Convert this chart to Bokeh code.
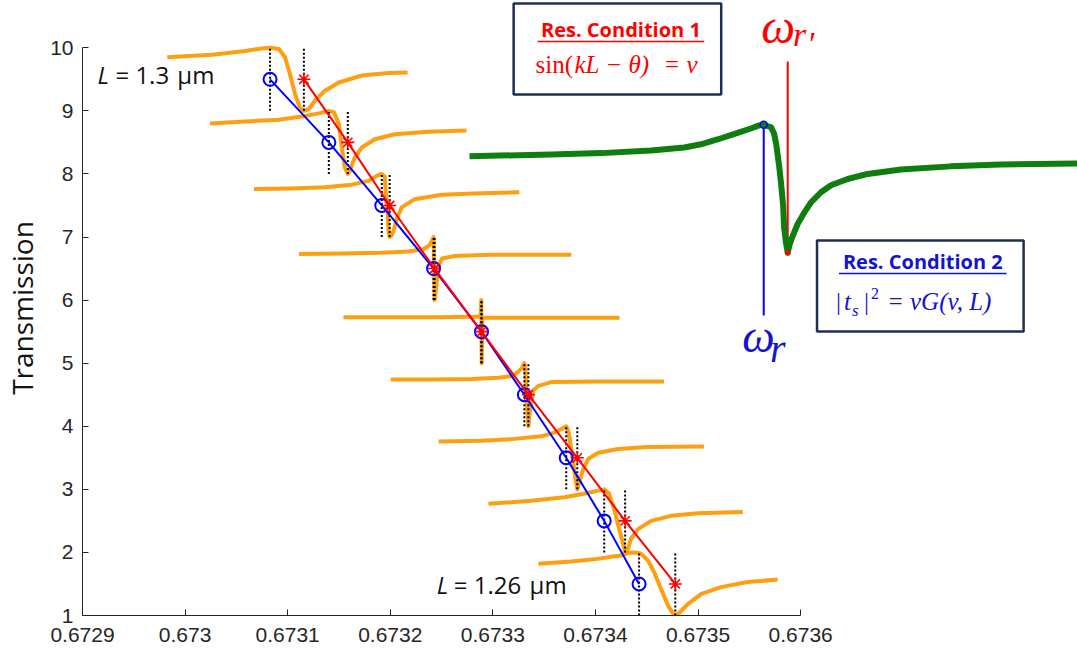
from bokeh.plotting import figure
from bokeh.models import Range1d, FixedTicker
from bokeh.core.properties import value
from bokeh.embed import file_html
from bokeh.resources import INLINE

# ---------------- data ----------------
x_ticks = [0.6729, 0.6730, 0.6731, 0.6732, 0.6733, 0.6734, 0.6735, 0.6736]
x_tick_labels = ["0.6729", "0.673", "0.6731", "0.6732", "0.6733", "0.6734", "0.6735", "0.6736"]
y_ticks = [1, 2, 3, 4, 5, 6, 7, 8, 9, 10]
y_tick_labels = ["1", "2", "3", "4", "5", "6", "7", "8", "9", "10"]

# resonance levels (one per length L = 1.300 ... 1.260 um)
levels = [9.5, 8.5, 7.5, 6.5, 5.5, 4.5, 3.5, 2.5, 1.5]
omega_r_freq = [0.6730828, 0.6731401, 0.6731917, 0.6732422, 0.6732889,
                0.6733307, 0.6733715, 0.6734085, 0.6734425]
omega_rp_freq = [0.6731158, 0.6731586, 0.6731994, 0.6732432, 0.6732889,
                 0.6733346, 0.6733823, 0.6734289, 0.6734778]

# transmission spectra (offset by one unit each)
spec_1300_x = [0.6729826, 0.6730264, 0.6730585, 0.6730750, 0.6730828, 0.6730915, 0.6730974,
               0.6731022, 0.6731071, 0.6731119, 0.6731158, 0.6731207, 0.6731265, 0.6731363,
               0.6731499, 0.6731722, 0.6731985, 0.6732169]
spec_1300_y = [9.85, 9.89, 9.95, 9.99, 10.00, 9.98, 9.85, 9.58, 9.27, 9.05, 9.00, 9.03, 9.16,
               9.32, 9.45, 9.56, 9.60, 9.61]

spec_1295_x = [0.6730244, 0.6730585, 0.6730915, 0.6731139, 0.6731304, 0.6731401, 0.6731450,
               0.6731499, 0.6731528, 0.6731557, 0.6731586, 0.6731606, 0.6731654, 0.6731722,
               0.6731849, 0.6732043, 0.6732374, 0.6732743]
spec_1295_y = [8.80, 8.83, 8.86, 8.91, 8.96, 9.00, 8.98, 8.79, 8.42, 8.10, 8.00, 8.05, 8.26,
               8.42, 8.55, 8.63, 8.67, 8.69]

spec_1290_x = [0.6730672, 0.6731042, 0.6731363, 0.6731625, 0.6731790, 0.6731868, 0.6731917,
               0.6731946, 0.6731956, 0.6731975, 0.6731985, 0.6731994, 0.6732014, 0.6732033,
               0.6732063, 0.6732111, 0.6732238, 0.6732500, 0.6732821, 0.6733258]
spec_1290_y = [7.76, 7.77, 7.79, 7.83, 7.89, 7.97, 8.00, 7.96, 7.71, 7.34, 7.07, 7.00, 7.03,
               7.10, 7.29, 7.47, 7.60, 7.67, 7.69, 7.71]

spec_1285_x = [0.6731110, 0.6731528, 0.6731917, 0.6732179, 0.6732325, 0.6732383, 0.6732422,
               0.6732427, 0.6732432, 0.6732450, 0.6732472, 0.6732505, 0.6732626, 0.6732986,
               0.6733764]
spec_1285_y = [6.73, 6.74, 6.75, 6.77, 6.81, 6.87, 7.00, 6.50, 6.00, 6.23, 6.55, 6.66, 6.70,
               6.72, 6.72]

spec_1280_x = [0.6731544, 0.6732500, 0.6732880, 0.6732887, 0.6732889, 0.6732891, 0.6732898,
               0.6733300, 0.6734234]
spec_1280_y = [5.73, 5.73, 5.74, 6.00, 5.50, 5.00, 5.72, 5.72, 5.72]

spec_1275_x = [0.6732004, 0.6732403, 0.6732792, 0.6733054, 0.6733200, 0.6733278, 0.6733307,
               0.6733317, 0.6733326, 0.6733336, 0.6733346, 0.6733365, 0.6733394, 0.6733443,
               0.6733569, 0.6734026, 0.6734668]
spec_1275_y = [4.74, 4.74, 4.75, 4.77, 4.80, 4.91, 5.00, 4.88, 4.57, 4.25, 4.00, 4.30, 4.57,
               4.64, 4.70, 4.71, 4.71]

spec_1270_x = [0.6732471, 0.6732889, 0.6733210, 0.6733472, 0.6733599, 0.6733686, 0.6733715,
               0.6733735, 0.6733764, 0.6733793, 0.6733810, 0.6733823, 0.6733842, 0.6733881,
               0.6733929, 0.6734026, 0.6734221, 0.6734513, 0.6735057]
spec_1270_y = [3.76, 3.77, 3.80, 3.84, 3.90, 3.97, 4.00, 3.93, 3.64, 3.32, 3.11, 3.00, 3.11,
               3.32, 3.48, 3.58, 3.64, 3.67, 3.68]

spec_1265_x = [0.6732957, 0.6733375, 0.6733696, 0.6733890, 0.6734026, 0.6734085, 0.6734133,
               0.6734182, 0.6734231, 0.6734269, 0.6734289, 0.6734318, 0.6734347, 0.6734415,
               0.6734542, 0.6734736, 0.6734999, 0.6735436]
spec_1265_y = [2.77, 2.82, 2.875, 2.93, 2.98, 3.00, 2.93, 2.69, 2.37, 2.14, 2.00, 2.06, 2.22,
               2.37, 2.50, 2.58, 2.62, 2.64]

spec_1260_x = [0.6733443, 0.6733764, 0.6733988, 0.6734153, 0.6734250, 0.6734318, 0.6734376,
               0.6734425, 0.6734444, 0.6734513, 0.6734571, 0.6734639, 0.6734707, 0.6734756,
               0.6734778, 0.6734814, 0.6734901, 0.6735028, 0.6735222, 0.6735485, 0.6735776]
spec_1260_y = [1.82, 1.855, 1.89, 1.93, 1.95, 1.99, 2.00, 1.99, 1.98, 1.87, 1.69, 1.42, 1.16,
               1.03, 1.00, 1.04, 1.18, 1.34, 1.45, 1.53, 1.57]

# schematic Fano line (inset, green)
fano_x = [0.6732772, 0.6733569, 0.6734058, 0.6734542, 0.6734866, 0.6735028, 0.6735196,
          0.6735349, 0.6735514, 0.6735595, 0.6735640, 0.6735712, 0.6735741, 0.6735761,
          0.6735790, 0.6735809, 0.6735829, 0.6735839, 0.6735858, 0.6735874, 0.6735890,
          0.6735923, 0.6735972, 0.6736036, 0.6736101, 0.6736198, 0.6736296, 0.6736458,
          0.6736653, 0.6736977, 0.6737463, 0.6737949, 0.6738698]
fano_y = [8.28, 8.31, 8.33, 8.37, 8.42, 8.47, 8.55, 8.63, 8.72, 8.77, 8.78, 8.74, 8.64, 8.48,
          8.13, 7.85, 7.50, 7.15, 6.90, 6.75, 6.87, 7.02, 7.21, 7.39, 7.55, 7.71, 7.82, 7.92,
          8.00, 8.07, 8.12, 8.15, 8.165]
fano_peak_x = 0.6735640
fano_peak_y = 8.78
fano_dip_x = 0.6735874
fano_dip_y = 6.75
marker_line_low = 5.756
marker_line_high = 9.783

spectra = [(spec_1300_x, spec_1300_y), (spec_1295_x, spec_1295_y), (spec_1290_x, spec_1290_y),
           (spec_1285_x, spec_1285_y), (spec_1280_x, spec_1280_y), (spec_1275_x, spec_1275_y),
           (spec_1270_x, spec_1270_y), (spec_1265_x, spec_1265_y), (spec_1260_x, spec_1260_y)]

# ---------------- styles ----------------
ORANGE = "#fe9f12"
GREEN = "#0f7d0f"
BLUE = "#0000ff"
RED = "#ff0000"
TXT_BLUE = "#1414cc"
NAVY = "#1f2f52"
AXIS = "#262626"

p = figure(width=1077, height=657, output_backend="svg", toolbar_location=None,
           x_range=Range1d(0.6729, 0.67386984), y_range=Range1d(1, 10.7495),
           min_border_left=80, min_border_right=0, min_border_top=0, min_border_bottom=42)
p.extra_x_ranges = {"px": Range1d(80, 1077)}
p.extra_y_ranges = {"px": Range1d(615, 0)}
p.outline_line_color = None
p.xgrid.grid_line_color = None
p.ygrid.grid_line_color = None
p.background_fill_color = "white"
p.border_fill_color = "white"

p.xaxis.ticker = FixedTicker(ticks=x_ticks)
p.xaxis.major_label_overrides = {t: s for t, s in zip(x_ticks, x_tick_labels)}
p.yaxis.ticker = FixedTicker(ticks=y_ticks)
p.yaxis.major_label_overrides = {t: s for t, s in zip(y_ticks, y_tick_labels)}
p.xaxis.bounds = (x_ticks[0], x_ticks[-1])
p.yaxis.bounds = (y_ticks[0], y_ticks[-1])
for ax in (p.xaxis, p.yaxis):
    ax.axis_line_color = AXIS
    ax.axis_line_width = 1
    ax.major_tick_line_color = AXIS
    ax.major_tick_in = 6
    ax.major_tick_out = 0
    ax.minor_tick_line_color = None
    ax.major_label_text_font = "Liberation Sans"
    ax.major_label_text_font_size = "21px"
    ax.major_label_text_color = AXIS
p.xaxis.major_label_standoff = 12
p.yaxis.major_label_standoff = 9
p.yaxis.axis_label = "Transmission"
p.yaxis.axis_label_text_font = "Open Sans"
p.yaxis.axis_label_text_font_size = "28px"
p.yaxis.axis_label_text_font_style = "normal"
p.yaxis.axis_label_text_color = "#111111"
p.yaxis.axis_label_standoff = 6

# spectra
for sx, sy in spectra:
    p.line(sx, sy, line_color=ORANGE, line_width=4, line_join="round")

# dotted resonance markers
seg_x = omega_r_freq + omega_rp_freq
seg_lo = [v - 0.5 for v in levels] * 2
seg_hi = [v + 0.5 for v in levels] * 2
p.segment(x0=seg_x, y0=seg_lo, x1=seg_x, y1=seg_hi, line_color="black",
          line_width=2, line_dash="2 2")

# resonance tracks
p.line(omega_r_freq, levels, line_color=BLUE, line_width=2)
p.scatter(omega_r_freq, levels, marker="circle", size=13, fill_color=None,
          line_color=BLUE, line_width=2)
p.line(omega_rp_freq, levels, line_color=RED, line_width=2)
p.scatter(omega_rp_freq, levels, marker="asterisk", size=13, line_color=RED, line_width=1.6)

# inset Fano line
p.segment(x0=[fano_peak_x], y0=[fano_peak_y], x1=[fano_peak_x], y1=[marker_line_low],
          line_color=BLUE, line_width=2)
p.segment(x0=[fano_dip_x], y0=[marker_line_high], x1=[fano_dip_x], y1=[fano_dip_y],
          line_color=RED, line_width=2)
p.line(fano_x, fano_y, line_color=GREEN, line_width=6, line_join="round")
p.scatter([fano_peak_x], [fano_peak_y], marker="circle", size=7, fill_color=None,
          line_color=BLUE, line_width=1.5)
p.scatter([fano_dip_x], [fano_dip_y], marker="asterisk", size=6, line_color=RED, line_width=1.2)

# ---------------- annotations (pixel-like extra ranges) ----------------
def txt(x, base, s, font, size, color, style="normal", align="left"):
    y = base - 0.4 * size
    p.text(x=[x], y=[y], text=[s], text_font=value(font), text_font_size=f"{size}px",
           text_color=color, text_font_style=style, text_align=align,
           text_baseline="alphabetic", x_range_name="px", y_range_name="px")

# boxes
p.quad(left=[512, 816], right=[720, 1023], top=[3, 240], bottom=[94, 331],
       fill_color="white", line_color=NAVY, line_width=2.5,
       x_range_name="px", y_range_name="px")
p.segment(x0=[536, 838], y0=[41, 273], x1=[703, 1006], y1=[41, 273],
          line_color=[RED, TXT_BLUE], line_width=1.5, x_range_name="px", y_range_name="px")

txt(619.5, 37, "Res. Condition 1", "Open Sans", 20, RED, "bold", "center")
txt(534, 74, "sin(", "Liberation Serif", 25, RED)
txt(573, 74, "kL \u2212 \u03b8)", "Liberation Serif", 25, RED, "italic")
txt(662, 74, "= v", "Liberation Serif", 25, RED, "italic")

txt(922, 269, "Res. Condition 2", "Open Sans", 20, TXT_BLUE, "bold", "center")
txt(835, 311, "|", "Liberation Serif", 25, TXT_BLUE)
txt(843, 311, "t", "Liberation Serif", 25, TXT_BLUE, "italic")
txt(851, 317, "s", "Liberation Serif", 17, TXT_BLUE, "italic")
txt(863, 311, "|", "Liberation Serif", 25, TXT_BLUE)
txt(870, 299, "2", "Liberation Serif", 16, TXT_BLUE)
txt(886, 311, "= vG(v, L)", "Liberation Serif", 25, TXT_BLUE, "italic")

# omega labels
txt(760, 45, "\u03c9", "Liberation Serif", 48, RED, "italic")
txt(792, 48, "r", "Liberation Serif", 34, RED, "italic")
txt(808, 57, "\u2032", "Liberation Serif", 34, RED)
txt(741, 354, "\u03c9", "Liberation Serif", 46, TXT_BLUE, "italic")
txt(769, 364, "r", "Liberation Serif", 40, TXT_BLUE, "italic")

# length labels
txt(95, 84, "L", "Open Sans", 24, "#111111", "italic")
txt(113, 84, "= 1.3", "Open Sans", 24, "#111111")
txt(175, 84, "\u03bcm", "Open Sans", 24, "#111111")
txt(435, 594, "L", "Open Sans", 24, "#111111", "italic")
txt(452, 594, "= 1.26", "Open Sans", 24, "#111111")
txt(528, 594, "\u03bcm", "Open Sans", 24, "#111111")

open("out.html", "w").write(file_html(p, INLINE))
